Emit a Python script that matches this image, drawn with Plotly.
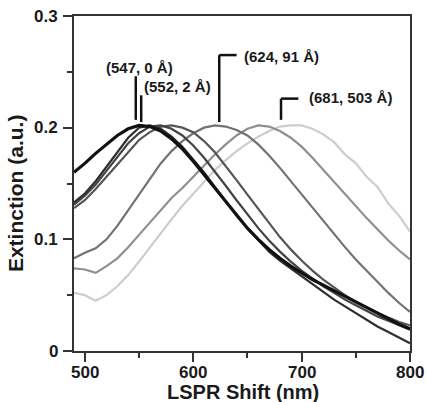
import plotly.graph_objects as go

# ---- data ----
wavelength = [490, 500, 510, 520, 530, 540, 550, 560, 570, 580, 590, 600, 610, 620, 630, 640,
              650, 660, 670, 680, 690, 700, 710, 720, 730, 740, 750, 760, 770, 780, 790, 800]

s547 = [0.160, 0.168, 0.177, 0.185, 0.193, 0.199, 0.202, 0.201, 0.197, 0.190, 0.181, 0.170, 0.158, 0.146, 0.133, 0.121,
        0.110, 0.100, 0.091, 0.083, 0.076, 0.070, 0.064, 0.059, 0.054, 0.049, 0.044, 0.039, 0.034, 0.029, 0.024, 0.020]
s552 = [0.133, 0.141, 0.152, 0.165, 0.178, 0.191, 0.200, 0.202, 0.199, 0.192, 0.183, 0.172, 0.160, 0.147, 0.134, 0.121,
        0.110, 0.099, 0.089, 0.081, 0.074, 0.067, 0.060, 0.053, 0.046, 0.040, 0.034, 0.028, 0.022, 0.017, 0.012, 0.007]
s563 = [0.131, 0.139, 0.149, 0.161, 0.174, 0.186, 0.195, 0.201, 0.202, 0.199, 0.193, 0.184, 0.173, 0.161, 0.148, 0.135,
        0.122, 0.110, 0.099, 0.089, 0.080, 0.072, 0.065, 0.058, 0.052, 0.046, 0.041, 0.036, 0.031, 0.027, 0.023, 0.019]
s575 = [0.128, 0.135, 0.145, 0.156, 0.168, 0.179, 0.189, 0.196, 0.201, 0.202, 0.200, 0.196, 0.188, 0.178, 0.166, 0.153,
        0.140, 0.127, 0.114, 0.102, 0.091, 0.081, 0.072, 0.064, 0.057, 0.050, 0.044, 0.039, 0.034, 0.030, 0.026, 0.023]
s624 = [0.083, 0.088, 0.092, 0.100, 0.112, 0.126, 0.140, 0.155, 0.168, 0.179, 0.188, 0.195, 0.200, 0.202, 0.201, 0.198,
        0.193, 0.185, 0.175, 0.164, 0.152, 0.140, 0.128, 0.116, 0.104, 0.093, 0.082, 0.072, 0.062, 0.052, 0.043, 0.035]
s655 = [0.074, 0.073, 0.070, 0.076, 0.083, 0.093, 0.104, 0.115, 0.126, 0.137, 0.146, 0.156, 0.166, 0.176, 0.185, 0.193,
        0.199, 0.202, 0.201, 0.197, 0.191, 0.183, 0.173, 0.162, 0.151, 0.140, 0.130, 0.119, 0.109, 0.099, 0.090, 0.082]
s681 = [0.052, 0.050, 0.045, 0.050, 0.058, 0.068, 0.080, 0.093, 0.106, 0.118, 0.130, 0.141, 0.152, 0.162, 0.171, 0.179,
        0.186, 0.192, 0.197, 0.201, 0.202, 0.202, 0.199, 0.194, 0.187, 0.176, 0.168, 0.156, 0.147, 0.132, 0.121, 0.107]

peak_nm = [547, 552, 624, 681]
thickness_A = [0, 2, 91, 503]

x_ticks = [500, 600, 700, 800]
y_ticks = [0, 0.1, 0.2, 0.3]
y_tick_text = ['0', '0.1', '0.2', '0.3']

# ---- figure ----
series = [(s681, '#cdcdcd', 2.2), (s655, '#8f8f8f', 2.2), (s624, '#727272', 2.2),
          (s575, '#555555', 2.2), (s563, '#444444', 2.2), (s552, '#2e2e2e', 2.2),
          (s547, '#111111', 3.2)]

fig = go.Figure()
for ys, col, w in series:
    fig.add_trace(go.Scatter(x=wavelength, y=ys, mode='lines',
                             line=dict(color=col, width=w), showlegend=False))

lab_font = dict(family='Liberation Sans', size=15, color='#1a1a1a', weight='bold')
# marker geometry: (bottom y, top y, bracket end x or None, label x, label y, anchor)
marks = [
    (0.207, 0.246, None, 550.5, 0.2535, 'center'),
    (0.205, 0.229, None, 585.5, 0.2373, 'center'),
    (0.205, 0.265, 640.0, 645.0, 0.2633, 'left'),
    (0.207, 0.226, 697.0, 705.0, 0.2266, 'left'),
]
for p, t, (yb, yt, xe, lx, ly, anc) in zip(peak_nm, thickness_A, marks):
    fig.add_shape(type='line', x0=p, x1=p, y0=yb, y1=yt, xref='x', yref='y',
                  line=dict(color='#111111', width=2.5))
    if xe is not None:
        fig.add_shape(type='line', x0=p, x1=xe, y0=yt, y1=yt, xref='x', yref='y',
                      line=dict(color='#111111', width=2.5))
    fig.add_annotation(x=lx, y=ly, xref='x', yref='y', text=f'({p}, {t} Å)',
                       showarrow=False, xanchor=anc, yanchor='middle', font=lab_font)

# tick labels (placed as text next to the axis ticks)
tick_font = dict(family='Liberation Sans', size=17, color='#1a1a1a', weight='bold')
for xv in x_ticks:
    fig.add_annotation(x=xv, y=-0.064, xref='x', yref='paper', text=str(xv), showarrow=False,
                       xanchor='center', yanchor='middle', font=tick_font)
for yv, yt_ in zip(y_ticks, y_tick_text):
    fig.add_annotation(x=-0.042, y=yv, xref='paper', yref='y', text=yt_, showarrow=False,
                       xanchor='right', yanchor='middle', font=tick_font)

fig.add_annotation(x=0.503, y=-0.122, xref='paper', yref='paper', text='LSPR Shift (nm)',
                   showarrow=False, xanchor='center', yanchor='middle',
                   font=dict(family='Liberation Sans', size=20, color='#1a1a1a', weight='bold'))
fig.add_annotation(x=-0.172, y=0.472, xref='paper', yref='paper', text='Extinction (a.u.)',
                   showarrow=False, textangle=-90, xanchor='center', yanchor='middle',
                   font=dict(family='Liberation Sans', size=21, color='#1a1a1a', weight='bold'))

axis_common = dict(showline=True, linecolor='#333333', linewidth=2, mirror=True,
                   ticks='outside', ticklen=9, tickwidth=2, tickcolor='#333333',
                   showgrid=False, zeroline=False, showticklabels=False)
fig.update_xaxes(range=[490, 800], tickvals=x_ticks,
                 minor=dict(dtick=50, tick0=500, ticks='outside', ticklen=5, tickwidth=2, tickcolor='#333333'),
                 **axis_common)
fig.update_yaxes(range=[0, 0.3], tickvals=y_ticks,
                 minor=dict(dtick=0.05, tick0=0, ticks='outside', ticklen=5, tickwidth=2, tickcolor='#333333'),
                 **axis_common)

fig.update_layout(width=427, height=402, margin=dict(l=74, r=17, t=16, b=51),
                  plot_bgcolor='white', paper_bgcolor='white')

fig.write_html('out.html', config={'displayModeBar': False},
               post_script="document.body.style.margin='0px';document.body.style.overflow='hidden';")
